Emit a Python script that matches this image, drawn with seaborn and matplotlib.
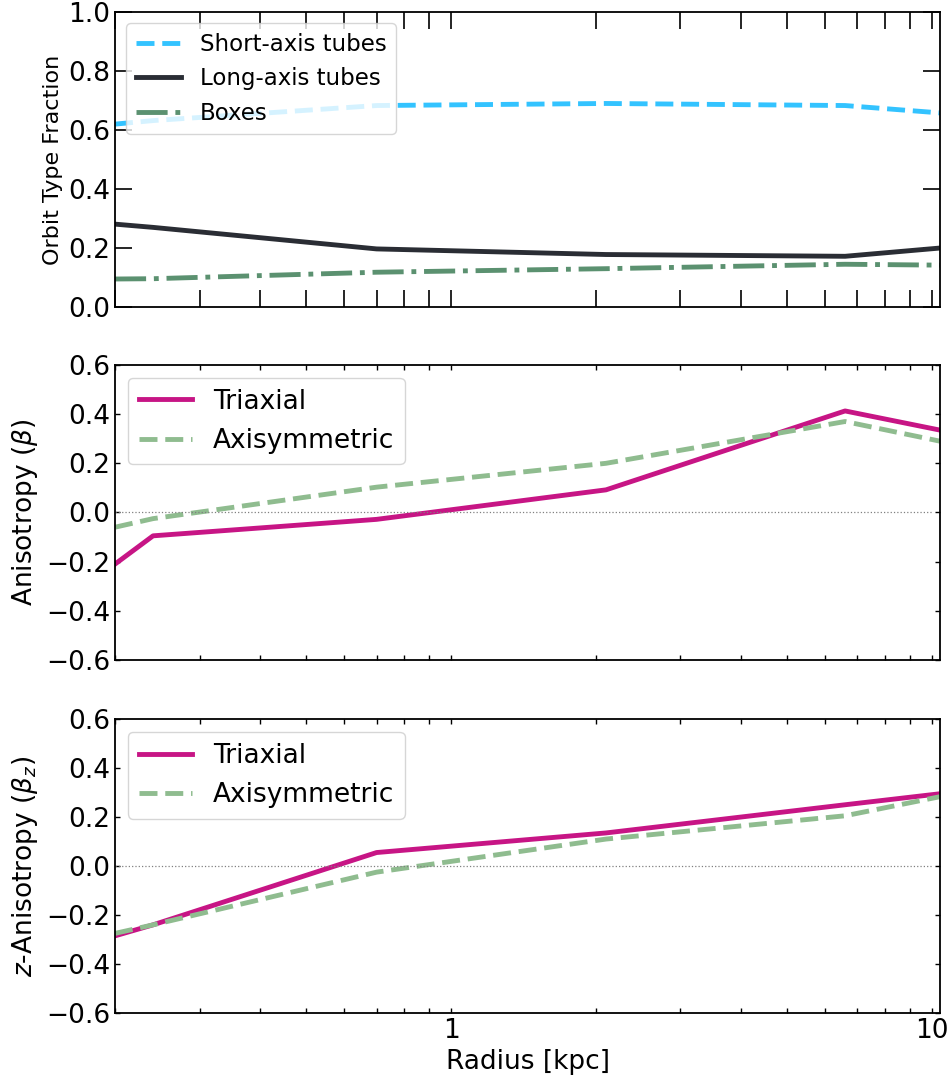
import matplotlib
matplotlib.use("Agg")
import matplotlib.pyplot as plt
import matplotlib.ticker as mticker
import seaborn as sns
import pandas as pd

# ---- data ----
radius = [0.20, 0.24, 0.70, 2.1, 6.6, 10.4]

short_axis = [0.620, 0.632, 0.683, 0.690, 0.683, 0.658]
long_axis = [0.281, 0.270, 0.197, 0.178, 0.172, 0.200]
boxes = [0.095, 0.096, 0.118, 0.130, 0.145, 0.142]

beta_tri = [-0.21, -0.095, -0.028, 0.092, 0.413, 0.335]
beta_axi = [-0.06, -0.025, 0.103, 0.200, 0.370, 0.290]

betaz_tri = [-0.285, -0.240, 0.055, 0.135, 0.250, 0.295]
betaz_axi = [-0.275, -0.240, -0.025, 0.110, 0.205, 0.283]

frac_ticks = [0.0, 0.2, 0.4, 0.6, 0.8, 1.0]
beta_ticks = [-0.6, -0.4, -0.2, 0.0, 0.2, 0.4, 0.6]

xlim = (0.2, 10.4)

c_short = "#33C3FF"
c_long = "#2A2D34"
c_box = "#5B9170"
c_tri = "#C71585"
c_axi = "#8FBC8F"

fig = plt.figure(figsize=(9.48, 10.83), dpi=100)
ax1 = fig.add_axes([0.1213, 0.7165, 0.8703, 0.2724])
ax2 = fig.add_axes([0.1213, 0.3906, 0.8703, 0.2724])
ax3 = fig.add_axes([0.1213, 0.0646, 0.8703, 0.2715])

# ---- panel 1 ----
df1 = pd.DataFrame({"r": radius, "short": short_axis, "long": long_axis, "box": boxes})
sns.lineplot(data=df1, x="r", y="short", ax=ax1, color=c_short, lw=3.5,
             linestyle="--", label="Short-axis tubes")
sns.lineplot(data=df1, x="r", y="long", ax=ax1, color=c_long, lw=3.5,
             linestyle="-", label="Long-axis tubes")
sns.lineplot(data=df1, x="r", y="box", ax=ax1, color=c_box, lw=3.5,
             linestyle="-.", label="Boxes")
ax1.set_xscale("log")
ax1.set_xlim(*xlim)
ax1.set_ylim(0, 1.0)
ax1.set_yticks(frac_ticks)
ax1.set_xlabel("")
ax1.set_ylabel("Orbit Type Fraction", fontsize=16)
ax1.tick_params(which="both", direction="in", top=True, right=True,
                length=12, width=1.2, labelsize=19)
ax1.tick_params(axis="x", labelbottom=False)
ax1.legend(loc="upper left", fontsize=16.5)

# ---- panel 2 ----
df2 = pd.DataFrame({"r": radius, "tri": beta_tri, "axi": beta_axi})
sns.lineplot(data=df2, x="r", y="tri", ax=ax2, color=c_tri, lw=3.5,
             linestyle="-", label="Triaxial")
sns.lineplot(data=df2, x="r", y="axi", ax=ax2, color=c_axi, lw=3.5,
             linestyle="--", label="Axisymmetric")
ax2.hlines(0, 0.2, 10, colors="gray", linestyles=":", lw=0.9)
ax2.set_xscale("log")
ax2.set_xlim(*xlim)
ax2.set_ylim(-0.6, 0.6)
ax2.set_yticks(beta_ticks)
ax2.set_xlabel("")
ax2.set_ylabel(r"Anisotropy ($\beta$)", fontsize=19)
ax2.tick_params(which="both", direction="in", top=True, right=True,
                length=3.5, width=1, labelsize=19)
ax2.tick_params(axis="x", labelbottom=False)
ax2.legend(loc="upper left", fontsize=19)

# ---- panel 3 ----
df3 = pd.DataFrame({"r": radius, "tri": betaz_tri, "axi": betaz_axi})
sns.lineplot(data=df3, x="r", y="tri", ax=ax3, color=c_tri, lw=3.5,
             linestyle="-", label="Triaxial")
sns.lineplot(data=df3, x="r", y="axi", ax=ax3, color=c_axi, lw=3.5,
             linestyle="--", label="Axisymmetric")
ax3.hlines(0, 0.2, 10, colors="gray", linestyles=":", lw=0.9)
ax3.set_xscale("log")
ax3.set_xlim(*xlim)
ax3.set_ylim(-0.6, 0.6)
ax3.set_yticks(beta_ticks)
ax3.set_xlabel("Radius [kpc]", fontsize=19)
ax3.set_ylabel(r"$z$-Anisotropy ($\beta_z$)", fontsize=19)
ax3.tick_params(which="both", direction="in", top=True, right=True,
                length=3.5, width=1, labelsize=19)
ax3.legend(loc="upper left", fontsize=19)

for ax in (ax1, ax2, ax3):
    ax.xaxis.set_major_formatter(mticker.FuncFormatter(lambda v, p: f"{v:g}"))
    ax.xaxis.set_minor_formatter(mticker.NullFormatter())
    for s in ax.spines.values():
        s.set_linewidth(1.3)

fig.savefig("out.png", dpi=100)
